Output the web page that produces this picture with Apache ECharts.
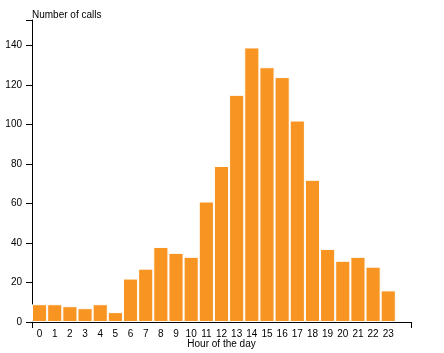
<!DOCTYPE html>
<html>
<head>
<meta charset="utf-8">
<script src="https://cdn.jsdelivr.net/npm/echarts@6/dist/echarts.min.js"></script>
<style>
  html, body { margin: 0; padding: 0; background: #fff; }
  #chart { width: 444px; height: 353px; }
</style>
</head>
<body>
<div id="chart"></div>
<script>
// calls per hour of day
const hours = ['0','1','2','3','4','5','6','7','8','9','10','11','12','13','14','15','16','17','18','19','20','21','22','23'];
const calls = [9, 9, 8, 7, 9, 5, 22, 27, 38, 35, 33, 61, 79, 115, 139, 129, 124, 102, 72, 37, 31, 33, 28, 16];

const font = 'Liberation Sans, Arial, sans-serif';
const yMax = Math.max(...calls) * 1.1;

// the x scale leaves one empty slot after hour 23
const cats = hours.concat(['']);

const chart = echarts.init(document.getElementById('chart'));
chart.setOption({
    animation: false,
    grid: { left: 32, right: 33, top: 20, bottom: 31, outerBoundsMode: 'none' },
    xAxis: [{
        type: 'category',
        data: cats,
        name: 'Hour of the day',
        nameLocation: 'middle',
        nameGap: 17,
        nameMoveOverlap: false,
        nameTextStyle: { fontFamily: font, fontSize: 10, color: '#000' },
        axisLine: { lineStyle: { color: '#000', width: 1 } },
        axisTick: {
            alignWithLabel: true, length: 6,
            interval: function (i) { return i < hours.length; },
            lineStyle: { color: '#000' }
        },
        axisLabel: { interval: 0, margin: 7, fontFamily: font, fontSize: 10, color: '#000' }
    }, {
        // outer ticks at both ends
        type: 'value', min: 0, max: 1, interval: 1, position: 'bottom',
        axisLine: { show: false },
        axisTick: { length: 6, lineStyle: { color: '#000' } },
        axisLabel: { show: false },
        splitLine: { show: false }
    }],
    yAxis: [{
        type: 'value',
        min: 0,
        max: yMax,
        interval: 20,
        name: 'Number of calls',
        nameLocation: 'end',
        nameGap: 0,
        nameTextStyle: { fontFamily: font, fontSize: 10, color: '#000', align: 'left' },
        axisLine: { show: true, lineStyle: { color: '#000', width: 1 } },
        axisTick: { show: true, length: 6, lineStyle: { color: '#000' } },
        axisLabel: {
            margin: 10, fontFamily: font, fontSize: 10, color: '#000',
            showMaxLabel: false
        },
        splitLine: { show: false }
    }, {
        type: 'value', min: 0, max: 1, interval: 1, position: 'left',
        axisLine: { show: false },
        axisTick: { show: true, length: 6, lineStyle: { color: '#000' } },
        axisLabel: { show: false },
        splitLine: { show: false }
    }],
    series: [{
        type: 'bar',
        data: calls,
        barCategoryGap: 0,
        itemStyle: { color: '#f89422', borderColor: '#fff', borderWidth: 1 }
    }]
});
</script>
</body>
</html>
